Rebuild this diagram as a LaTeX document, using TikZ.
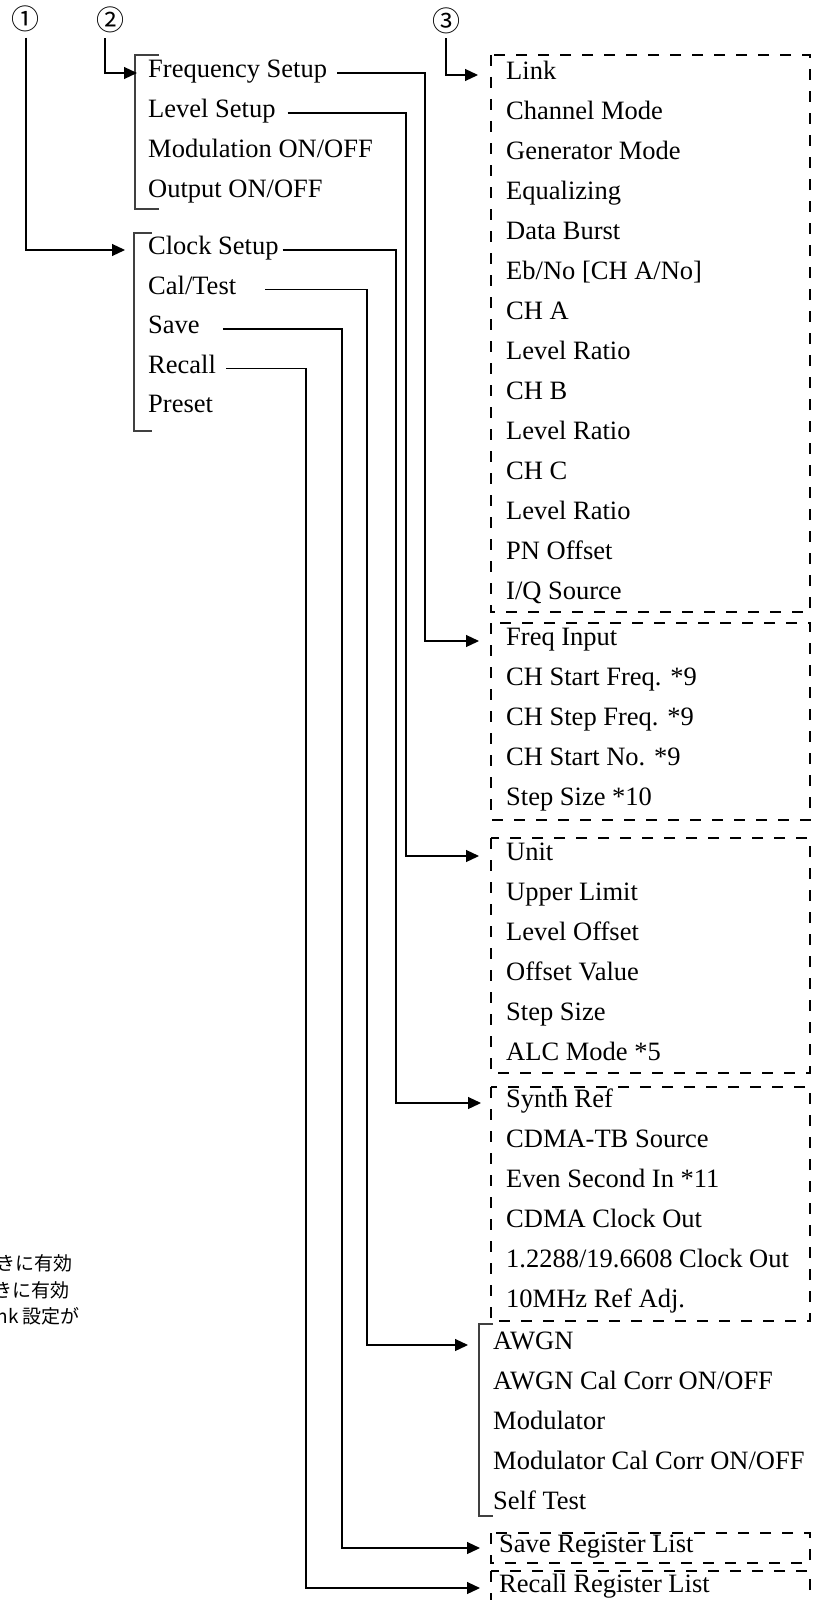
\documentclass[tikz,border=0pt]{standalone}
\usepackage{fontspec}
\setmainfont{Liberation Serif}
\newfontfamily\jpfont{Noto Sans CJK JP}
\usetikzlibrary{arrows.meta}

\tikzset{
	item/.style={anchor=west, inner sep=0pt, font=\fontsize{26.5}{30}\selectfont, text height=16pt, text depth=7pt},
	num/.style={inner sep=0pt, font=\jpfont\fontsize{28}{28}\selectfont},
	note/.style={anchor=east, inner sep=0pt, font=\jpfont\fontsize{19}{19}\selectfont},
	link/.style={line width=1.2pt, -{Triangle[length=13pt,width=12pt]}},
	dbox/.style={line width=1.3pt, dash pattern=on 11pt off 11pt},
	brk/.style={line width=1.1pt, black!75}
}

\begin{document}
\begin{tikzpicture}[x=1pt,y=-1pt]

		\useasboundingbox (0,0) rectangle (815,1600);
		\clip (0,0) rectangle (815,1600);

		\coordinate (XF) at (425,0);
		\coordinate (XL) at (406,0);
		\coordinate (XC) at (396,0);
		\coordinate (XT) at (367,0);
		\coordinate (XS) at (342,0);
		\coordinate (XR) at (306,0);

		\node [num] (N1) at (26,18.5) {①};
		\node [num] (N2) at (110,20) {②};
		\node [num] (N3) at (446,21) {③};

		% menu keys
		\node [item] (FS) at (148,73) {Frequency Setup};
		\node [item] (LS) at (148,113) {Level Setup};
		\node [item] (MO) at (148,153) {Modulation ON/OFF};
		\node [item] (OO) at (148,193) {Output ON/OFF};

		\node [item] (CS) at (148,250) {Clock Setup};
		\node [item] (CT) at (148,289.5) {Cal/Test};
		\node [item] (SV) at (148,329) {Save};
		\node [item] (RC) at (148,368.5) {Recall};
		\node [item] (PR) at (148,408) {Preset};

		\draw [brk] (159,55) -- (135,55) -- (135,209) -- (159,209);
		\draw [brk] (152,233) -- (134,233) -- (134,431) -- (152,431);

		% link box
		\node [item] (LK) at (506,75) {Link};
		\node [item] (CM) at (506,115) {Channel Mode};
		\node [item] (GM) at (506,155) {Generator Mode};
		\node [item] (EQ) at (506,195) {Equalizing};
		\node [item] (DB) at (506,235) {Data Burst};
		\node [item] (EB) at (506,275) {Eb/No [CH A/No]};
		\node [item] (CA) at (506,315) {CH A};
		\node [item] (RA) at (506,355) {Level Ratio};
		\node [item] (CB) at (506,395) {CH B};
		\node [item] (RB) at (506,435) {Level Ratio};
		\node [item] (CC) at (506,475) {CH C};
		\node [item] (RCC) at (506,515) {Level Ratio};
		\node [item] (PN) at (506,555) {PN Offset};
		\node [item] (IQ) at (506,595) {I/Q Source};
		\draw [dbox] (491,55) rectangle (810,612);

		% frequency box
		\node [item] (FI) at (506,641) {Freq Input};
		\node [item] (SF) at (506,681) {CH Start Freq. *9};
		\node [item] (TF) at (506,721) {CH Step Freq. *9};
		\node [item] (SN) at (506,761) {CH Start No. *9};
		\node [item] (SZ) at (506,801) {Step Size *10};
		\draw [dbox] (491,623) rectangle (810,820);

		% level box
		\node [item] (UN) at (506,856) {Unit};
		\node [item] (UL) at (506,896) {Upper Limit};
		\node [item] (LO) at (506,936) {Level Offset};
		\node [item] (OV) at (506,976) {Offset Value};
		\node [item] (SS) at (506,1016) {Step Size};
		\node [item] (AL) at (506,1056) {ALC Mode *5};
		\draw [dbox] (491,838) rectangle (810,1073);

		% clock box
		\node [item] (SR) at (506,1103) {Synth Ref};
		\node [item] (TB) at (506,1143) {CDMA-TB Source};
		\node [item] (ES) at (506,1183) {Even Second In *11};
		\node [item] (CO) at (506,1223) {CDMA Clock Out};
		\node [item] (CK) at (506,1263) {1.2288/19.6608 Clock Out};
		\node [item] (RJ) at (506,1303) {10MHz Ref Adj.};
		\draw [dbox] (491,1087) rectangle (810,1321);

		% cal/test
		\node [item] (AW) at (493,1345) {AWGN};
		\node [item] (AC) at (493,1385) {AWGN Cal Corr ON/OFF};
		\node [item] (MD) at (493,1425) {Modulator};
		\node [item] (MC) at (493,1465) {Modulator Cal Corr ON/OFF};
		\node [item] (ST) at (493,1505) {Self Test};
		\draw [brk] (493,1324) -- (479,1324) -- (479,1516) -- (493,1516);

		% registers
		\node [item] (SL) at (499,1548) {Save Register List};
		\draw [dbox] (491,1533) rectangle (810,1563);
		\node [item] (RL) at (499,1588) {Recall Register List};
		\draw [dbox] (491,1571) rectangle (810,1630);

		% notes
		\node [note] (J1) at (73,1263) {きに有効};
		\node [note] (J2) at (70,1290) {きに有効};
		\node [note] (J3) at (80,1316) {Link 設定が};

		% arrows
		\draw [link] ([yshift=-6pt]N1.south) |- ([xshift=-23pt]CS.west);
		\draw [link] ([xshift=-5pt,yshift=-5pt]N2.south) |- ([xshift=-11pt]FS.west);
		\draw [link] ([yshift=-4pt]N3.south) |- ([xshift=-28pt]LK.west);

		\draw [link] ([xshift=10pt]FS.east) -- (FS.east -| XF) |- ([xshift=-27pt]FI.west);
		\draw [link] ([xshift=12pt]LS.east) -- (LS.east -| XL) |- ([xshift=-27pt]UN.west);
		\draw [link] ([xshift=4pt]CS.east) -- (CS.east -| XC) |- ([xshift=-25pt]SR.west);
		\draw [link] ([xshift=29pt]CT.east) -- (CT.east -| XT) |- ([xshift=-25pt]AW.west);
		\draw [link] ([xshift=23pt]SV.east) -- (SV.east -| XS) |- ([xshift=-19pt]SL.west);
		\draw [link] ([xshift=10pt]RC.east) -- (RC.east -| XR) |- ([xshift=-19pt]RL.west);

\end{tikzpicture}
\end{document}
